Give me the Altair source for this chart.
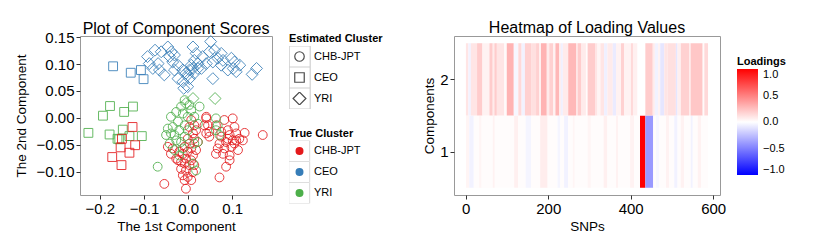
import altair as alt
import pandas as pd

FONT = "Liberation Sans"
clusters = ["CHB-JPT", "CEO", "YRI"]
cluster_colors = ["#E41A1C", "#377EB8", "#4DAF4A"]
diamond = "M-1.35,0L0,-1.35L1.35,0L0,1.35Z"

# ---- component scores, one pair of lists per (true cluster, estimated cluster) ----
# true CEO, estimated YRI
ceo_yri_x = [-0.092, -0.075, -0.088, -0.080, -0.068, -0.065, -0.061, -0.046, -0.042, -0.038,
             -0.035, -0.031, -0.054, -0.023, -0.012, -0.010, -0.001, 0.003, 0.011, 0.018,
             0.014, 0.007, 0.003, 0.011, 0.022, 0.014, -0.001, 0.051, 0.048, 0.060,
             0.067, 0.075, 0.056, 0.079, 0.098, 0.105, 0.109, 0.102, 0.117, 0.155,
             0.145, 0.033, 0.041, -0.023, -0.012, -0.005, 0.056, 0.090, 0.075, -0.031,
             0.030, 0.022]
ceo_yri_y = [0.114, 0.126, 0.101, 0.092, 0.101, 0.089, 0.123, 0.132, 0.114, 0.123,
             0.104, 0.089, 0.080, 0.073, 0.067, 0.055, 0.058, 0.073, 0.132, 0.120,
             0.107, 0.098, 0.089, 0.092, 0.092, 0.083, 0.080, 0.142, 0.123, 0.126,
             0.111, 0.098, 0.073, 0.107, 0.111, 0.104, 0.086, 0.092, 0.098, 0.092,
             0.081, 0.114, 0.101, 0.098, 0.089, 0.083, 0.104, 0.089, 0.120, 0.117,
             0.092, 0.101]
# true CEO, estimated CEO
ceo_ceo_x = [-0.170, -0.130, -0.107, -0.101]
ceo_ceo_y = [0.096, 0.084, 0.089, 0.072]
# true YRI, estimated YRI
yri_yri_x = [0.011, 0.061, -0.005]
yri_yri_y = [0.036, 0.036, 0.027]
# true YRI, estimated CEO
yri_ceo_x = [-0.177, -0.193, -0.145, -0.125, -0.226, -0.178, -0.148, -0.156, -0.133, -0.105, -0.160]
yri_ceo_y = [0.022, 0.004, 0.011, 0.021, -0.028, -0.031, -0.022, -0.040, -0.034, -0.034, -0.039]
# true CHB-JPT, estimated CEO
chb_ceo_x = [-0.126, -0.120, -0.133, -0.153, -0.172, -0.151, -0.150]
chb_ceo_y = [-0.017, -0.051, -0.065, -0.055, -0.073, -0.088, -0.039]
# true YRI, estimated CHB-JPT
yri_chb_x = [-0.008, 0.003, -0.016, -0.027, -0.039, -0.012, -0.001, -0.023, -0.035, -0.050,
             -0.039, -0.020, -0.008, -0.001, -0.027, -0.042, -0.016, -0.008, -0.031, -0.012,
             -0.020, 0.007, 0.014, -0.069, 0.011, 0.014, -0.046, -0.031, 0.026, 0.063,
             0.067, 0.063, 0.071, 0.022, 0.022, 0.018]
yri_chb_y = [0.033, 0.024, 0.021, 0.011, 0.002, 0.008, 0.002, -0.007, -0.017, -0.032,
             -0.029, -0.023, -0.014, -0.023, -0.042, -0.048, -0.045, -0.035, -0.060, -0.057,
             -0.070, 0.014, 0.002, -0.091, -0.085, -0.048, -0.020, -0.032, 0.021, -0.001,
             -0.014, -0.023, -0.032, -0.011, -0.045, -0.098]
# true CHB-JPT, estimated CHB-JPT
chb_chb_x = [0.007, 0.014, 0.003, 0.011, -0.001, 0.014, 0.003, -0.008, 0.007, 0.018,
             -0.001, -0.012, 0.011, -0.005, 0.007, -0.008, 0.003, -0.016, -0.005, -0.012,
             -0.001, 0.011, -0.008, -0.005, -0.054, -0.027, -0.020, -0.035, 0.018, 0.022,
             -0.046, -0.039, -0.023, -0.016, 0.014, 0.007,
             0.041, 0.045, 0.041, 0.063, 0.082, 0.101, 0.105, 0.090, 0.075, 0.094,
             0.109, 0.128, 0.116, 0.101, 0.086, 0.071, 0.067, 0.082, 0.098, 0.113,
             0.079, 0.094, 0.086, 0.071, 0.169, 0.048, 0.105, 0.090, 0.075, 0.063,
             0.109, 0.124, 0.094, 0.041, 0.037, 0.048]
chb_chb_y = [-0.004, -0.014, -0.017, -0.029, -0.039, -0.039, -0.048, -0.054, -0.057, -0.060,
             -0.063, -0.067, -0.070, -0.076, -0.079, -0.085, -0.088, -0.095, -0.098, -0.107,
             -0.110, -0.101, -0.116, -0.132, -0.123, -0.076, -0.063, -0.057, -0.023, -0.045,
             -0.054, -0.067, -0.079, -0.082, -0.088, -0.116,
             -0.001, -0.014, -0.029, -0.014, -0.004, -0.001, -0.017, -0.023, -0.026, -0.032,
             -0.029, -0.028, -0.039, -0.042, -0.045, -0.048, -0.057, -0.057, -0.054, -0.060,
             -0.067, -0.070, -0.091, -0.111, -0.032, -0.035, -0.048, -0.039, -0.035, -0.067,
             -0.042, -0.042, -0.079, 0.002, -0.014, -0.026]

groups = [
    ("YRI", "CEO", yri_ceo_x, yri_ceo_y),
    ("CHB-JPT", "CEO", chb_ceo_x, chb_ceo_y),
    ("CEO", "CEO", ceo_ceo_x, ceo_ceo_y),
    ("CHB-JPT", "CHB-JPT", chb_chb_x, chb_chb_y),
    ("YRI", "CHB-JPT", yri_chb_x, yri_chb_y),
    ("YRI", "YRI", yri_yri_x, yri_yri_y),
    ("CEO", "YRI", ceo_yri_x, ceo_yri_y),
]
rows = []
for true_c, est_c, xs, ys in groups:
    for a, b in zip(xs, ys):
        rows.append({"pc1": a, "pc2": b, "true": true_c, "est": est_c,
                     "true_key": true_c, "est_key": est_c})
scores = pd.DataFrame(rows)

# ---- loading values: runs of SNPs (start index, value); each run ends where the next starts ----
n_snps = 587
comp2_start = [0, 6, 12, 27, 40, 57, 65, 69, 75, 93,
               99, 116, 127, 135, 143, 158, 170, 178, 182, 196,
               202, 212, 217, 226, 230, 235, 248, 267, 271, 280,
               291, 295, 313, 319, 326, 335, 343, 356, 364, 376,
               384, 400, 405, 416, 435, 453, 458, 466, 471, 481,
               489, 509, 513, 521, 541, 545, 574, 578]
comp2_value = [0.10, -0.05, 0.10, 0.20, 0.05, 0.20, 0.08, 0.20, 0.10, 0.02,
               0.30, -0.03, 0.15, -0.05, 0.18, 0.12, 0.18, 0.06, 0.30, 0.08,
               0.18, 0.05, 0.28, 0.08, -0.06, 0.08, 0.28, 0.10, 0.20, 0.08,
               0.01, 0.20, 0.10, 0.04, 0.10, -0.06, 0.08, -0.08, 0.05, 0.18,
               0.05, 0.15, 0.06, 0.00, 0.20, 0.08, -0.05, 0.05, -0.10, 0.10,
               0.12, -0.10, 0.06, 0.18, 0.08, 0.22, 0.02, 0.15]
comp1_start = [0, 8, 19, 32, 38, 65, 70, 117, 127, 145,
               158, 180, 198, 222, 229, 238, 248, 259, 264, 295,
               303, 334, 343, 364, 369, 398, 408, 422, 435, 454,
               461, 469, 485, 493, 505, 513, 521, 529, 545, 550,
               562, 570]
comp1_value = [0.04, -0.05, 0.01, 0.04, 0.01, 0.05, 0.01, 0.06, 0.01, -0.04,
               0.01, 0.07, 0.01, -0.04, 0.01, -0.05, 0.01, 0.04, 0.01, 0.04,
               0.01, 0.06, 0.01, 0.05, 0.01, 0.05, 0.01, 1.00, -0.40, 0.01,
               -0.03, 0.01, 0.05, 0.01, -0.05, 0.01, 0.05, 0.01, -0.05, 0.01,
               0.05, 0.01]

tiles = []
for comp, starts, values in [(1, comp1_start, comp1_value), (2, comp2_start, comp2_value)]:
    ends = starts[1:] + [n_snps]
    for s, e, v in zip(starts, ends, values):
        tiles.append({"x0": s + 0.5, "x1": e + 0.5, "y0": comp - 0.5, "y1": comp + 0.5,
                      "comp": comp, "value": v})
tiles = pd.DataFrame(tiles)

legend_common = dict(orient="none", titleFontSize=11, titleFontWeight="bold", labelFontSize=11,
                     titleFont=FONT, labelFont=FONT, padding=0, titlePadding=6,
                     labelOffset=9, rowPadding=8, clipHeight=13,
                     titleColor="black", labelColor="black")
EST_Y = -3
TRUE_Y = 91.5
KEY_SHIFT = 13  # title height + padding, minus half the difference of entry heights
# gray key boxes drawn behind the legend symbols (ggplot-style legend keys), no text
box_common = dict(orient="none", title=None, padding=0, symbolType="square", symbolSize=441,
                  symbolStrokeColor="#c8c8c8", symbolFillColor="transparent",
                  symbolStrokeWidth=1.2, symbolOffset=-0.8, clipHeight=21, rowPadding=0,
                  labelExpr="''", labelFontSize=11, zindex=0, legendX=209)

scatter = alt.Chart(scores).mark_point(filled=False, size=78).encode(
    x=alt.X("pc1:Q", scale=alt.Scale(domain=[-0.245, 0.19], nice=False, zero=False),
            axis=alt.Axis(values=[-0.2, -0.1, 0.0, 0.1], format=".1f",
                          title="The 1st Component", titlePadding=3)),
    y=alt.Y("pc2:Q", scale=alt.Scale(domain=[-0.1437, 0.1524], nice=False, zero=False),
            axis=alt.Axis(values=[-0.10, -0.05, 0.0, 0.05, 0.10, 0.15], format=".2f",
                          title="The 2nd Component", titlePadding=8)),
    shape=alt.Shape("est:N", sort=clusters, scale=alt.Scale(range=["circle", "square", diamond]),
                    legend=alt.Legend(title="Estimated Cluster", legendX=209, legendY=EST_Y,
                                      symbolSize=90, symbolStrokeColor="black",
                                      symbolFillColor="transparent", symbolStrokeWidth=1.2,
                                      symbolOffset=5, zindex=1, **legend_common)),
    color=alt.Color("true:N", sort=clusters, scale=alt.Scale(range=cluster_colors),
                    legend=alt.Legend(title="True Cluster", legendX=209, legendY=TRUE_Y,
                                      symbolType="circle", symbolSize=16, symbolStrokeWidth=4,
                                      symbolOpacity=1, symbolOffset=5, zindex=1,
                                      **legend_common)),
    opacity=alt.Opacity("est_key:N", sort=clusters,
                        scale=alt.Scale(type="ordinal", range=[0.85, 0.85, 0.85]),
                        legend=alt.Legend(legendY=EST_Y + KEY_SHIFT, **box_common)),
    strokeWidth=alt.StrokeWidth("true_key:N", sort=clusters,
                                scale=alt.Scale(type="ordinal", range=[1, 1, 1]),
                                legend=alt.Legend(legendY=TRUE_Y + KEY_SHIFT, **box_common)),
).properties(width=192, height=159,
             title=alt.TitleParams("Plot of Component Scores", offset=-6.5))

heat = alt.Chart(tiles).mark_rect(strokeWidth=0).encode(
    x=alt.X("x0:Q", scale=alt.Scale(domain=[-28.4, 616.5], nice=False, zero=False),
            axis=alt.Axis(values=[0, 200, 400, 600], format="d", title="SNPs", titlePadding=3)),
    x2="x1:Q",
    y=alt.Y("y0:Q", scale=alt.Scale(domain=[0.4, 2.6], nice=False, zero=False),
            axis=alt.Axis(values=[1, 2], format="d", title="Components", titlePadding=3)),
    y2="y1:Q",
    color=alt.Color("value:Q",
                    scale=alt.Scale(domain=[-1, 0, 1], range=["#0000FF", "#FFFFFF", "#FF0000"],
                                    interpolate="rgb"),
                    legend=alt.Legend(title="Loadings", orient="none", legendX=283, legendY=20,
                                      direction="vertical", gradientLength=106,
                                      gradientThickness=21, gradientStrokeWidth=0,
                                      values=[-1, -0.5, 0, 0.5, 1], format=".1f",
                                      labelBaseline="middle",
                                      titleFontSize=11, titleFontWeight="bold", labelFontSize=11,
                                      titleFont=FONT, labelFont=FONT, padding=0, titlePadding=2,
                                      labelOffset=5, titleColor="black", labelColor="black")),
).properties(width=266, height=159,
             title=alt.TitleParams("Heatmap of Loading Values", offset=0.5))

chart = alt.hconcat(scatter, heat, spacing=38).resolve_scale(
    color="independent", shape="independent"
).properties(
    padding={"left": 5, "top": 11, "right": 5, "bottom": 0}
).configure_view(
    stroke="#999999", strokeWidth=1
).configure_axis(
    grid=False, domain=False, labelFont=FONT, titleFont=FONT, labelFontSize=15,
    titleFontSize=13.5, titleFontWeight="normal", labelColor="black", titleColor="black",
    tickColor="#333333", tickSize=4, labelPadding=2
).configure_title(
    font=FONT, fontSize=16, fontWeight="normal", anchor="middle", color="black",
    baseline="alphabetic"
)

chart.save("out.html", embed_options={"renderer": "svg", "actions": False})
